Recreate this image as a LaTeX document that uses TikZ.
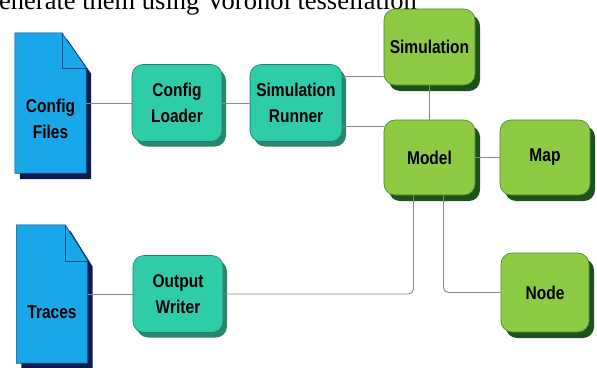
\documentclass[tikz,border=0pt]{standalone}
\usepackage{fontspec}
\setmainfont{Liberation Serif}
\newfontfamily\boxfont{Liberation Sans}[FakeStretch=0.84]
\usetikzlibrary{shapes,shadows,positioning}

\definecolor{docblue}{HTML}{18A8EA}
\definecolor{docshadow}{HTML}{0B1A50}
\definecolor{docline}{HTML}{0B4F86}
\definecolor{tealfill}{HTML}{2FCCAA}
\definecolor{tealshadow}{HTML}{2A8670}
\definecolor{tealline}{HTML}{1F7F6A}
\definecolor{greenfill}{HTML}{8DCB45}
\definecolor{greenshadow}{HTML}{1C531C}
\definecolor{greenline}{HTML}{4F7F2A}
\definecolor{linkgray}{HTML}{8A8A80}

\begin{document}
\begin{tikzpicture}[x=1pt, y=-1pt,
	lbl/.style={font=\boxfont\bfseries\fontsize{18.5}{26}\selectfont, align=center, text=black},
	tealbox/.style={lbl, draw=tealline, fill=tealfill, rounded corners=11pt, line width=0.6pt,
		minimum width=90pt, minimum height=77pt,
		drop shadow={shadow xshift=4pt, shadow yshift=-5pt, fill=tealshadow, opacity=1}},
	greenbox/.style={lbl, draw=greenline, fill=greenfill, rounded corners=11pt, line width=0.6pt,
		minimum width=91pt, minimum height=76pt,
		drop shadow={shadow xshift=5pt, shadow yshift=-6pt, fill=greenshadow, opacity=1}},
	docbody/.style={inner sep=0pt, minimum width=71pt},
	link/.style={draw=linkgray, line width=0.9pt}]

		% Page size
		\useasboundingbox (0,0) rectangle (597,367);
		\clip (0,0) rectangle (597,367);

		% Cut-off text line above the picture
		\node[anchor=base west, inner sep=0pt, font=\fontsize{26.5}{30}\selectfont] (caption) at (-1,9) {enerate them using Voronoi tessellation};

		% Documents (dog-eared)
		\node[docbody, minimum height=140pt] (cfg) at (50.5,103) {};
		\node[docbody, minimum height=138pt] (trc) at (52,294) {};

		% Config Files
		\fill[docshadow] ([shift={(5,6)}]cfg.north west) -- ++(47,0) -- ([shift={(5,41)}]cfg.north east)
			-- ([shift={(5,6)}]cfg.south east) -- ([shift={(5,6)}]cfg.south west) -- cycle;
		\draw[docline, fill=docblue, line width=0.6pt] (cfg.north west) -- ++(47,0) -- ([yshift=-35pt]cfg.north east)
			-- (cfg.south east) -- (cfg.south west) -- cycle;
		\draw[docline, line width=0.6pt] ([xshift=47pt]cfg.north west) -- ++(0,35) -- ([yshift=-35pt]cfg.north east);
		\node[lbl] (cfgtext) at ([yshift=-16pt]cfg.center) {Config\\Files};

		% Traces
		\fill[docshadow] ([shift={(5,6)}]trc.north west) -- ++(49,0) -- ([shift={(5,42)}]trc.north east)
			-- ([shift={(5,6)}]trc.south east) -- ([shift={(5,6)}]trc.south west) -- cycle;
		\draw[docline, fill=docblue, line width=0.6pt] (trc.north west) -- ++(49,0) -- ([yshift=-36pt]trc.north east)
			-- (trc.south east) -- (trc.south west) -- cycle;
		\draw[docline, line width=0.6pt] ([xshift=49pt]trc.north west) -- ++(0,36) -- ([yshift=-36pt]trc.north east);
		\node[lbl] (trctext) at ([yshift=-18pt]trc.center) {Traces};

		% Teal boxes
		\node[tealbox] (loader) at (177,103) {Config\\Loader};
		\node[tealbox, minimum width=92pt] (runner) at (296,103) {Simulation\\Runner};
		\node[tealbox] (writer) at (178,294) {Output\\Writer};

		% Green boxes
		\node[greenbox] (sim) at (429.5,47) {Simulation};
		\node[greenbox, minimum height=75pt] (model) at (429.5,157.5) {Model};
		\node[greenbox, minimum width=90pt, minimum height=75pt] (map) at (545,157.5) {Map};
		\node[greenbox, minimum width=88pt, minimum height=79pt] (nodebox) at (545,292.5) {Node};

		% Connectors
		\draw[link] (cfg.east) -- (loader.west);
		\draw[link] (loader.east) -- (runner.west);
		\draw[link] ([yshift=27pt]runner.east) coordinate (rtop) -- (rtop -| sim.west);
		\draw[link] ([yshift=-23pt]runner.east) coordinate (rbot) -- (rbot -| model.west);
		\draw[link] (sim.south) -- (model.north);
		\draw[link] (model.east) -- (map.west);
		\draw[link] (trc.east) -- (writer.west);
		\draw[link, rounded corners=5pt] ([xshift=-16pt]model.south) |- (writer.east);
		\draw[link, rounded corners=5pt] ([xshift=14pt]model.south) |- (nodebox.west);
	\end{tikzpicture}
\end{document}
